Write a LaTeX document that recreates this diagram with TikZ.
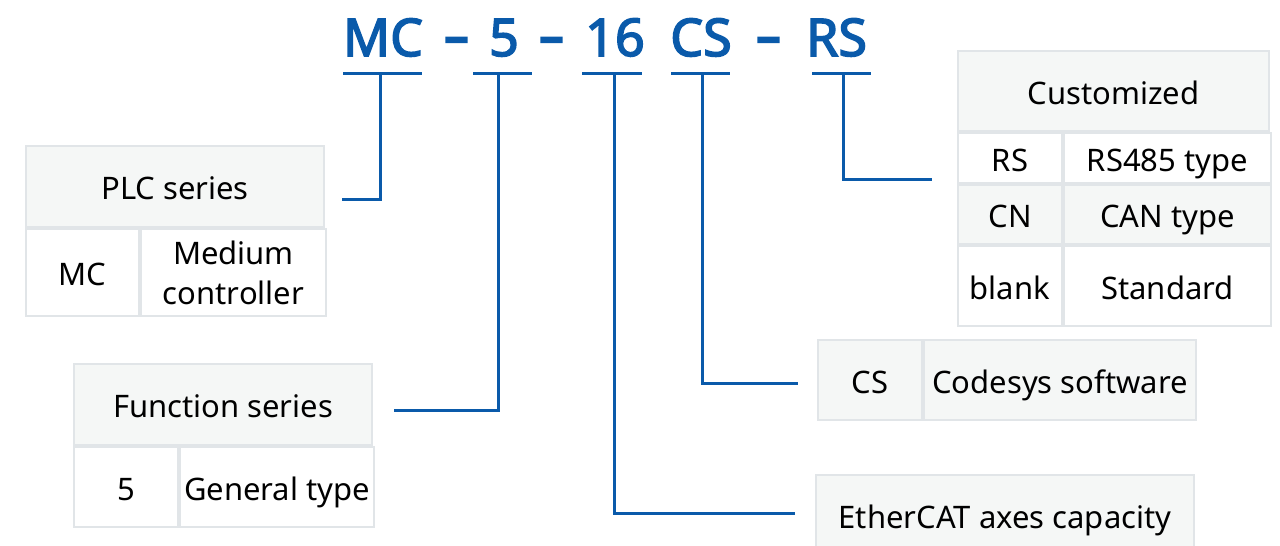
\documentclass[tikz,border=0pt]{standalone}
\usepackage{fontspec}
\usepackage{graphicx}
\setmainfont{Noto Sans}
\newfontfamily\codefont{Noto Sans}[FakeBold=3]
\usetikzlibrary{positioning}
\definecolor{codeblue}{RGB}{10,90,170}
\definecolor{cellline}{RGB}{225,229,232}
\definecolor{cellgray}{RGB}{245,247,246}
\tikzstyle{cell} = [
        rectangle, draw=cellline, line width=2pt,
        inner sep=0pt, text height=30pt, text depth=4pt,
        font=\fontsize{31}{40}\selectfont, anchor=north west
    ]
\tikzstyle{head} = [cell, fill=cellgray]
\tikzstyle{title} = [
        font=\codefont\fontsize{52}{60}\selectfont,
        text=codeblue, inner sep=0pt, anchor=base
    ]
\tikzstyle{uline} = [rectangle, fill=codeblue, inner sep=0pt, minimum height=3pt]
\tikzstyle{line} = [draw=codeblue, line width=3pt]

\begin{document}
\begin{tikzpicture}[x=1pt, y=-1pt]
    \useasboundingbox (0,0) rectangle (1280,546);

    \node [title] (tMC) at (383,56) {MC};
    \node [title] (d1) at (456.5,56) {\scalebox{0.95}[1.15]{–}};
    \node [title] (t5) at (504,56) {5};
    \node [title] (d2) at (551.5,56) {\scalebox{0.95}[1.15]{–}};
    \node [title] (t16) at (615,56) {16};
    \node [title] (tCS) at (701,56) {CS};
    \node [title] (d3) at (768.5,56) {\scalebox{0.95}[1.15]{–}};
    \node [title] (tRS) at (836.5,56) {RS};

    \node [uline, minimum width=79pt] (uMC) at (382.5,73) {};
    \node [uline, minimum width=59pt] (u5) at (502.5,73) {};
    \node [uline, minimum width=60pt] (u16) at (612,73) {};
    \node [uline, minimum width=59pt] (uCS) at (700.5,73) {};
    \node [uline, minimum width=59pt] (uRS) at (841.5,73) {};

    \node [head, minimum width=298pt, minimum height=81pt] (plc) at (25,145) {PLC series};
    \node [cell, minimum width=113pt, minimum height=87pt, below=0pt of plc.south west, anchor=north west] (plcMC) {MC};
    \node [cell, minimum width=185pt, minimum height=87pt, right=0pt of plcMC.north east, anchor=north west,
           align=center, text height={}, text depth={}] (plcMed) {Medium\\controller};

    \node [head, minimum width=298pt, minimum height=81pt] (func) at (73,363) {Function series};
    \node [cell, minimum width=104pt, minimum height=80pt, below=0pt of func.south west, anchor=north west] (func5) {5};
    \node [cell, minimum width=194pt, minimum height=80pt, right=0pt of func5.north east, anchor=north west] (funcGen) {General type};

    \node [head, minimum width=311pt, minimum height=80pt] (cust) at (957,50) {Customized};
    \node [cell, minimum width=104pt, minimum height=50pt, below=0pt of cust.south west, anchor=north west] (custRS) {RS};
    \node [cell, minimum width=207pt, minimum height=50pt, right=0pt of custRS.north east, anchor=north west] (custRSt) {RS485 type};
    \node [head, minimum width=104pt, minimum height=59pt, below=0pt of custRS.south west, anchor=north west] (custCN) {CN};
    \node [head, minimum width=207pt, minimum height=59pt, right=0pt of custCN.north east, anchor=north west] (custCNt) {CAN type};
    \node [cell, minimum width=104pt, minimum height=80pt, below=0pt of custCN.south west, anchor=north west] (custBl) {blank};
    \node [cell, minimum width=207pt, minimum height=80pt, right=0pt of custBl.north east, anchor=north west] (custBlt) {Standard};

    \node [head, minimum width=104pt, minimum height=80pt] (csKey) at (817,339) {CS};
    \node [head, minimum width=272pt, minimum height=80pt, right=0pt of csKey.north east, anchor=north west] (csTxt) {Codesys software};

    \node [head, minimum width=378pt, minimum height=80pt] (eth) at (815,474) {EtherCAT axes capacity};

    \coordinate (cPLC) at (342,199);
    \coordinate (cFunc) at (394,410);
    \coordinate (cEth) at (795,513);
    \coordinate (cCS) at (798,383);
    \coordinate (cCust) at (932,179);

    \path [line] ([xshift=-2.5pt]uMC.center) |- (cPLC);
    \path [line] ([xshift=-4.5pt]u5.center) |- (cFunc);
    \path [line] ([xshift=2pt]u16.center) |- (cEth);
    \path [line] ([xshift=1.5pt]uCS.center) |- (cCS);
    \path [line] ([xshift=1.5pt]uRS.center) |- (cCust);
\end{tikzpicture}
\end{document}
